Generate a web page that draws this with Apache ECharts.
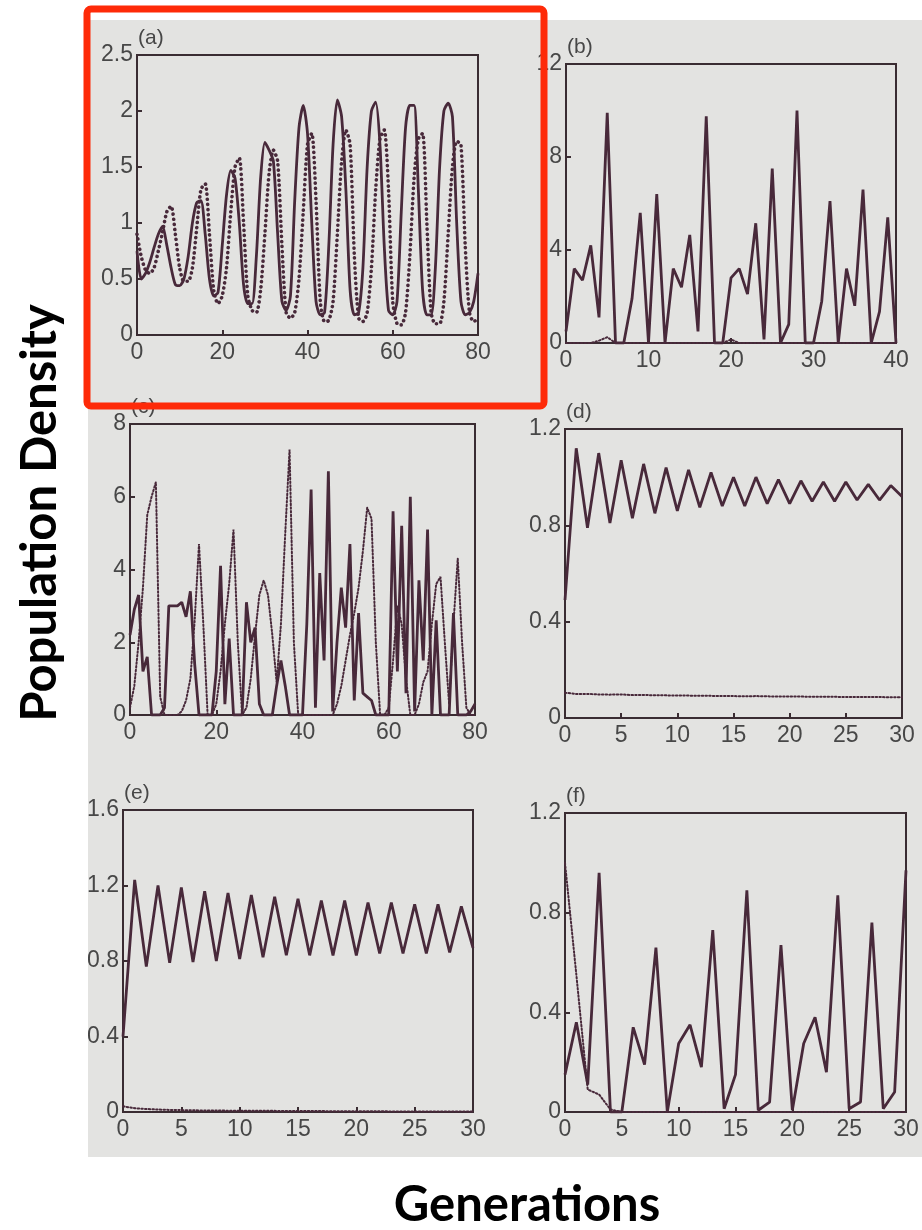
<!DOCTYPE html>
<html><head><meta charset="utf-8">
<script src="https://cdn.jsdelivr.net/npm/echarts@6/dist/echarts.min.js"></script>
<style>html,body{margin:0;padding:0;background:#fff}#c{width:922px;height:1230px}</style>
</head><body><div id="c"></div><script>
// ---- data (index = generation) ----
const aSolid=[0.75,0.5,0.55,0.65,0.78,0.9,0.97,0.8,0.6,0.45,0.44,0.5,0.7,1.0,1.18,1.2,0.9,0.5,0.35,0.38,0.8,1.25,1.47,1.4,1.0,0.45,0.28,0.28,0.7,1.4,1.72,1.65,1.55,0.9,0.3,0.22,0.35,1.2,1.85,2.05,1.8,1.0,0.3,0.18,0.2,0.8,1.7,2.1,1.95,1.3,0.4,0.18,0.2,0.6,1.5,2.0,2.08,1.7,0.8,0.22,0.18,0.3,1.1,1.85,2.05,2.05,1.3,0.4,0.18,0.18,0.6,1.5,2.0,2.07,1.95,1.0,0.3,0.18,0.2,0.3,0.55];
const aDotted=[0.9,0.7,0.58,0.55,0.6,0.75,0.92,1.1,1.15,0.9,0.6,0.48,0.48,0.6,0.95,1.3,1.35,0.9,0.4,0.28,0.35,0.6,1.1,1.5,1.58,1.0,0.35,0.22,0.2,0.4,0.9,1.45,1.65,1.55,0.8,0.2,0.15,0.2,0.5,1.1,1.7,1.8,1.2,0.3,0.12,0.13,0.3,0.9,1.55,1.83,1.7,0.7,0.15,0.12,0.2,0.6,1.3,1.75,1.83,1.3,0.3,0.1,0.09,0.2,0.7,1.4,1.75,1.8,1.0,0.2,0.1,0.1,0.3,0.9,1.5,1.73,1.7,0.8,0.2,0.12,0.15];
const bSolid=[0.5,3.2,2.7,4.2,1.1,9.9,0,0,1.9,5.6,0,6.4,0,3.2,2.4,4.65,0.5,9.75,0,0,2.8,3.2,2.1,5.15,0.15,7.5,0,0.8,10.0,0,0,1.8,6.1,0,3.2,1.6,6.6,0,1.35,5.4,0];
const bDotted=[0,0,0,0,0.1,0.25,0,0,0,0,0,0,0,0,0,0,0,0,0,0,0.15,0,0,0,0,0,0,0,0,0,0,0,0,0,0,0,0,0,0,0,0];
const cSolid=[2.2,2.9,3.3,1.2,1.6,0,0,0,0.2,3.0,3.0,3.0,3.1,2.7,3.4,1.4,0,0,0,0,1.2,4.1,0.3,2.1,0,0,0,3.1,2.0,2.4,0.3,0,0,0,0.8,1.5,0.8,0,0,0,0,2.5,6.2,0.2,3.9,1.5,6.7,0.1,2.0,3.5,2.4,4.7,0.4,2.8,0.6,0.5,0.4,0,0,0,0,5.6,1.2,5.2,0.6,6.0,0.1,3.7,1.5,5.1,0,2.6,0,0,0,2.8,0,0,0,0.1,0.3];
const cDotted=[0.2,0.8,2.0,3.5,5.5,6.0,6.4,0.5,0,0,0,0,0.1,0.4,1.0,2.6,4.7,2.5,0,0,0.3,1.2,2.5,3.6,5.1,2.0,0,0.2,1.0,2.2,3.3,3.7,3.3,2.2,0.9,2.5,5.0,7.3,2.0,0,0,0,0,0,0,0,0,0,0.3,0.8,1.5,2.2,2.8,3.5,4.5,5.7,5.4,2.0,0,0,0.2,1.5,3.0,2.5,1.0,0,0,0.3,0.9,1.2,2.5,3.6,3.8,2.0,0.3,2.5,4.3,2.0,0.2,0,0];
const dSolid=[0.49,1.12,0.79,1.1,0.81,1.07,0.83,1.055,0.85,1.04,0.86,1.03,0.875,1.02,0.88,1.0,0.88,1.0,0.89,0.99,0.89,0.985,0.9,0.98,0.9,0.98,0.905,0.97,0.905,0.965,0.92];
const dDotted=[0.105,0.1,0.1,0.098,0.097,0.098,0.095,0.096,0.094,0.094,0.093,0.093,0.092,0.092,0.091,0.091,0.09,0.091,0.09,0.089,0.089,0.089,0.088,0.088,0.088,0.087,0.087,0.087,0.087,0.086,0.086];
const eSolid=[0.4,1.23,0.77,1.2,0.79,1.19,0.795,1.17,0.8,1.16,0.81,1.15,0.82,1.14,0.83,1.13,0.83,1.12,0.83,1.12,0.83,1.11,0.84,1.11,0.84,1.1,0.84,1.1,0.845,1.09,0.87];
const eDotted=[0.03,0.02,0.016,0.013,0.011,0.01,0.009,0.008,0.008,0.007,0.007,0.006,0.006,0.006,0.005,0.005,0.005,0.005,0.004,0.004,0.004,0.004,0.004,0.003,0.003,0.003,0.003,0.003,0.003,0.003,0.003];
const fSolid=[0.15,0.36,0.11,0.96,0,0,0.34,0.19,0.66,0,0.275,0.35,0.18,0.73,0.013,0.15,0.89,0.007,0.04,0.67,0.007,0.275,0.38,0.16,0.87,0.013,0.04,0.76,0.013,0.08,0.97];
const fDotted=[1.0,0.55,0.09,0.07,0.01,0,0,0,0,0,0,0,0,0,0,0,0,0,0,0,0,0,0,0,0,0,0,0,0,0,0];

const panelLabels=['(a)','(b)','(c)','(d)','(e)','(f)'];
const xMax=[80,40,80,30,30,30], xStep=[20,10,20,5,5,5];
const yMax=[2.5,12,8,1.2,1.6,1.2], yStep=[0.5,4,2,0.4,0.4,0.4];
const yTitle='Population Density', xTitle='Generations';

// ---- layout ----
const boxes=[
  {left:137,top:55,width:341,height:280},
  {left:566,top:64,width:330,height:279},
  {left:130,top:424,width:345,height:291},
  {left:565,top:429,width:337,height:289},
  {left:123,top:810,width:350,height:302},
  {left:565,top:813,width:341,height:299}
];
const ink='#3a2c32', lineCol='#48293a', txt='#474747';
const solids=[aSolid,bSolid,cSolid,dSolid,eSolid,fSolid];
const dots=[aDotted,bDotted,cDotted,dDotted,eDotted,fDotted];

const grid=[],xAxis=[],yAxis=[],series=[],graphic=[];
boxes.forEach((b,i)=>{
  grid.push(Object.assign({show:true,borderColor:ink,borderWidth:2,backgroundColor:'transparent'},b));
  const lab={color:txt,fontSize:23,fontFamily:'Liberation Sans'};
  xAxis.push({type:'value',gridIndex:i,min:0,max:xMax[i],interval:xStep[i],
    axisLine:{show:true,lineStyle:{color:ink,width:2}},
    axisTick:{show:true,inside:true,length:5,lineStyle:{color:ink,width:2}},
    axisLabel:Object.assign({margin:6},lab),splitLine:{show:false}});
  yAxis.push({type:'value',gridIndex:i,min:0,max:yMax[i],interval:yStep[i],
    axisLine:{show:true,lineStyle:{color:ink,width:2}},
    axisTick:{show:true,inside:true,length:5,lineStyle:{color:ink,width:2}},
    axisLabel:Object.assign({margin:4},lab),splitLine:{show:false}});
  series.push({type:'line',xAxisIndex:i,yAxisIndex:i,showSymbol:false,symbol:'none',
    smooth:i===0?0.25:false,animation:false,
    data:solids[i].map((v,k)=>[k,v]),
    lineStyle:{color:lineCol,width:2.8},z:3});
  const big=(i===0);
  series.push({type:'line',xAxisIndex:i,yAxisIndex:i,showSymbol:false,symbol:'none',
    smooth:i===0?0.25:false,animation:false,
    data:dots[i].map((v,k)=>[k,v]),
    lineStyle:{color:lineCol,width:big?3.6:2,type:big?[0.1,5]:[1.5,2.2],cap:'round'},z:2});
  graphic.push({type:'text',x:b.left+1,y:b.top-17,z:40,
    style:{text:panelLabels[i],fill:txt,fontSize:21,fontFamily:'Liberation Sans',textAlign:'left',textVerticalAlign:'middle'}});
});

// page background, crop mask, highlight box, outer titles
graphic.unshift({type:'rect',shape:{x:88,y:20,width:834,height:1137},style:{fill:'#e3e3e1'},z:-100,silent:true});
graphic.push({type:'rect',shape:{x:0,y:0,width:88,height:1230},style:{fill:'#ffffff'},z:50,silent:true});
graphic.push({type:'rect',shape:{x:87,y:9,width:457,height:397,r:4},style:{fill:'none',stroke:'#fe2a08',lineWidth:7},z:60,silent:true});
graphic.push({type:'text',x:40,y:513,rotation:Math.PI/2,z:70,
  style:{text:yTitle,fill:'#000',fontSize:49,fontWeight:'bold',fontFamily:'Lato',textAlign:'center',textVerticalAlign:'middle'}});
graphic.push({type:'text',x:527,y:1205,z:70,
  style:{text:xTitle,fill:'#000',fontSize:49,fontWeight:'bold',fontFamily:'Lato',textAlign:'center',textVerticalAlign:'middle'}});

const chart=echarts.init(document.getElementById('c'),null,{renderer:'canvas'});
chart.setOption({animation:false,backgroundColor:'#ffffff',grid,xAxis,yAxis,series,graphic});
</script></body></html>
